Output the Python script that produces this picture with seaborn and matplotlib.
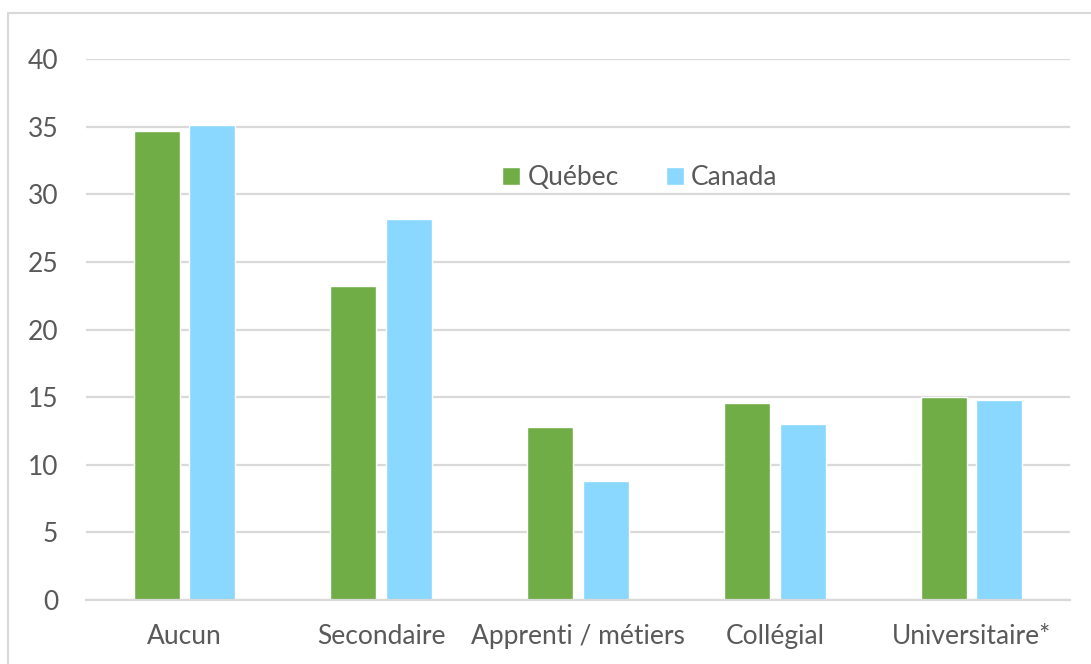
import pandas as pd
import seaborn as sns
import matplotlib.pyplot as plt
from matplotlib.patches import Rectangle

# -----------------------------
# Data
# -----------------------------
categories = ['Aucun', 'Secondaire', 'Apprenti / métiers', 'Collégial', 'Universitaire*']
quebec = [34.7, 23.2, 12.8, 14.6, 15.0]
canada = [35.1, 28.2, 8.8, 13.0, 14.8]
series = ['Québec', 'Canada']
colors = ['#70AD47', '#8AD7FF']
yticks = [0, 5, 10, 15, 20, 25, 30, 35, 40]

df = pd.DataFrame({
    'Niveau': categories * 2,
    'Serie': [series[0]] * len(categories) + [series[1]] * len(categories),
    'Valeur': quebec + canada,
})

# -----------------------------
# Style
# -----------------------------
sns.set_style('white')
plt.rcParams['font.family'] = ['Lato', 'DejaVu Sans']
text_color = '#595959'
grid_color = '#D9D9D9'
fs = 19

fig = plt.figure(figsize=(10.91, 6.64), dpi=100)
ax = fig.add_axes([86 / 1091, 64 / 664, 984 / 1091, 541 / 664])

sns.barplot(
    data=df, x='Niveau', y='Valeur', hue='Serie', order=categories,
    hue_order=series, palette=colors, width=0.565, gap=0.17,
    saturation=1, ax=ax, legend=True
)

ax.set_ylim(0, 40)
ax.set_xlim(-0.5, len(categories) - 0.5)
ax.set_yticks(yticks)
ax.set_yticklabels([str(t) for t in yticks])
ax.set_xlabel('')
ax.set_ylabel('')

ax.yaxis.grid(True, color=grid_color, linewidth=1.6)
ax.set_axisbelow(True)
for side in ['top', 'right', 'left']:
    ax.spines[side].set_visible(False)
ax.spines['bottom'].set_color(grid_color)
ax.spines['bottom'].set_linewidth(1.6)

ax.tick_params(axis='y', length=0, pad=20, labelsize=fs, labelcolor=text_color)
ax.tick_params(axis='x', length=0, pad=17, labelsize=fs, labelcolor=text_color)

leg = ax.legend(
    loc='center', bbox_to_anchor=(0.563, 0.781), ncol=2, frameon=False,
    fontsize=fs, handlelength=0.68, handleheight=0.68, handletextpad=0.27,
    columnspacing=1.8
)
for txt in leg.get_texts():
    txt.set_color(text_color)

# chart-area border (left/top visible, others run off the image)
fig.patches.append(Rectangle(
    (8 / 1091, -0.1), 1.2, 1 - 12.5 / 664 + 0.1,
    transform=fig.transFigure, fill=False, edgecolor=grid_color, linewidth=1.5
))

plt.savefig('out.png', dpi=100)
